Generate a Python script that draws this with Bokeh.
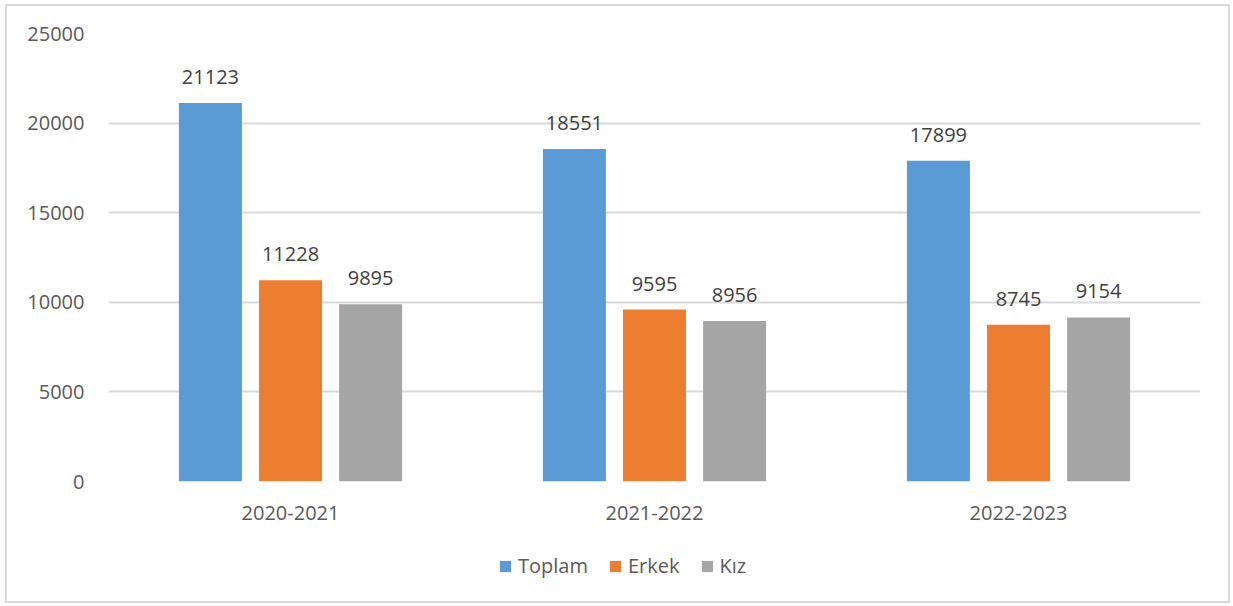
from bokeh.plotting import figure
from bokeh.models import ColumnDataSource, Legend, LegendItem, SingleIntervalTicker, LabelSet, NumeralTickFormatter, Range1d
from bokeh.layouts import column
from bokeh.transform import dodge
from bokeh.embed import file_html
from bokeh.resources import INLINE
from bokeh.core.properties import value

categories = ["2020-2021", "2021-2022", "2022-2023"]
toplam = [21123, 18551, 17899]
erkek = [11228, 9595, 8745]
kiz = [9895, 8956, 9154]
series_names = ["Toplam", "Erkek", "Kız"]
colors = ["#5B9BD5", "#ED7D31", "#A5A5A5"]

FONT = "Open Sans"
TXT = "#595959"

src = ColumnDataSource(dict(cat=categories, toplam=toplam, erkek=erkek, kiz=kiz,
                            toplam_s=[str(v) for v in toplam],
                            erkek_s=[str(v) for v in erkek],
                            kiz_s=[str(v) for v in kiz]))

p = figure(x_range=categories, y_range=(0, 25000), width=1221, height=530,
           output_backend="svg", toolbar_location=None,
           min_border_left=101, min_border_right=28, min_border_top=27, min_border_bottom=55)
p.outline_line_color = None

offsets = [-0.22, 0.0, 0.22]
fields = ["toplam", "erkek", "kiz"]
for f, off, c in zip(fields, offsets, colors):
    p.vbar(x=dodge("cat", off, range=p.x_range), top=f, width=0.173, source=src,
           fill_color=c, line_color=None)
    lbl = LabelSet(x=dodge("cat", off, range=p.x_range), y=f, text=f + "_s", source=src,
                   text_align="center", text_baseline="middle", y_offset=26,
                   text_font=value(FONT), text_font_size="20px", text_color="#404040")
    p.add_layout(lbl)

p.xgrid.grid_line_color = None
p.ygrid.grid_line_color = "#d9d9d9"
p.ygrid.grid_line_width = 2
p.yaxis.ticker = SingleIntervalTicker(interval=5000)
p.yaxis.formatter = NumeralTickFormatter(format="0")
for ax in (p.xaxis, p.yaxis):
    ax.axis_line_color = None
    ax.major_tick_line_color = None
    ax.minor_tick_line_color = None
    ax.major_label_text_font = FONT
    ax.major_label_text_font_size = "20px"
    ax.major_label_text_color = TXT
p.yaxis.major_label_standoff = 18
p.xaxis.major_label_standoff = 18

# legend strip below the chart (its renderers are hidden; only legend swatches show)
pl = figure(x_range=p.x_range, y_range=Range1d(-2, -1), width=1221, height=65,
            output_backend="svg", toolbar_location=None,
            x_axis_type=None, y_axis_type=None,
            min_border_left=101, min_border_right=28, min_border_top=0, min_border_bottom=0)
pl.outline_line_color = None
pl.xgrid.grid_line_color = None
pl.ygrid.grid_line_color = None
leg_renderers = [pl.vbar(x=dodge("cat", off, range=pl.x_range), top=f, width=0.173, source=src,
                         fill_color=c, line_color=None, visible=False)
                 for f, off, c in zip(fields, offsets, colors)]
legend = Legend(items=[LegendItem(label=n, renderers=[r]) for n, r in zip(series_names, leg_renderers)],
                orientation="horizontal", location=(390, 22),
                glyph_width=14, glyph_height=14, label_standoff=6, spacing=20,
                label_text_font=FONT, label_text_font_size="20px", label_text_color=TXT,
                inactive_fill_alpha=0,
                border_line_color=None, background_fill_alpha=0, padding=0, margin=0)
pl.add_layout(legend, "center")

layout = column(p, pl, spacing=0, styles={"margin-left": "5px", "margin-top": "4px",
                                          "border": "2px solid #d9d9d9"})

open("out.html", "w").write(file_html(layout, INLINE))
